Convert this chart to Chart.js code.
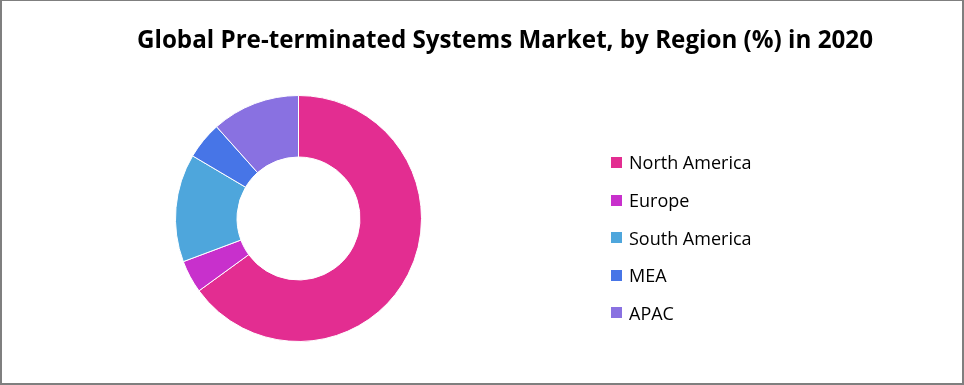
<!DOCTYPE html>
<html>
<head>
<meta charset="utf-8">
<script src="https://cdn.jsdelivr.net/npm/chart.js@4/dist/chart.umd.min.js"></script>
<style>
  html, body { margin: 0; padding: 0; background: #fff; }
  #wrap { position: relative; width: 964px; height: 385px; overflow: hidden; background: #fff; }
  #frame { position: absolute; left: 0; top: 0; width: 964px; height: 385px; box-sizing: border-box;
           border-style: solid; border-color: #7f7f7f; border-width: 1px 2px 2px 2px; pointer-events: none; }
  #chart { position: absolute; left: 0; top: 0; }
  #title { position: absolute; left: 137px; top: 24px; font-family: "Open Sans", Lato, sans-serif; font-weight: bold;
           font-size: 24.2px; line-height: 30px; color: #000; white-space: nowrap; }
  #legend { position: absolute; left: 611px; top: 143.7px; font-family: "Open Sans", Lato, sans-serif; font-size: 18px; color: #000; }
  .item { display: flex; align-items: center; height: 37.6px; white-space: nowrap; }
  .box { width: 11px; height: 11px; margin-right: 7px; flex: none; }
</style>
</head>
<body>
<div id="wrap">
  <canvas id="chart" width="964" height="385"></canvas>
  <div id="title">Global Pre-terminated Systems Market, by Region (%) in 2020</div>
  <div id="legend"></div>
  <div id="frame"></div>
</div>
<script>
// ---- data ----
const regions = ["North America", "Europe", "South America", "MEA", "APAC"];
const shares = [65.0, 4.3, 14.2, 4.9, 11.6];
const regionColors = ["#E32D91", "#C830CC", "#4EA6DC", "#4775E7", "#8971E1"];

const chart = new Chart(document.getElementById('chart'), {
  type: 'doughnut',
  data: {
    labels: regions,
    datasets: [{
      data: shares,
      backgroundColor: regionColors,
      borderColor: '#ffffff',
      borderWidth: 1
    }]
  },
  options: {
    responsive: false,
    animation: false,
    cutout: '50%',
    layout: { padding: { top: 95, bottom: 43, left: 0, right: 367 } },
    plugins: {
      legend: { display: false },
      title: { display: false },
      tooltip: { enabled: false }
    }
  }
});

// HTML legend generated from the chart's own legend items
const legendEl = document.getElementById('legend');
const items = Chart.overrides.doughnut.plugins.legend.labels.generateLabels(chart);
items.forEach(it => {
  const row = document.createElement('div');
  row.className = 'item';
  const box = document.createElement('span');
  box.className = 'box';
  box.style.background = it.fillStyle;
  const txt = document.createElement('span');
  txt.textContent = it.text;
  row.appendChild(box);
  row.appendChild(txt);
  legendEl.appendChild(row);
});
</script>
</body>
</html>
